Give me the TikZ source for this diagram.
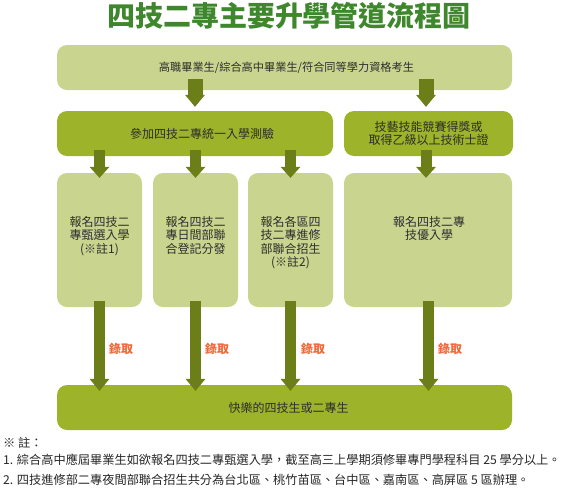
\documentclass[tikz,border=0pt]{standalone}
\usepackage{fontspec}
\setmainfont{Noto Sans CJK TC}
\usetikzlibrary{arrows.meta,calc}
\definecolor{lightg}{RGB}{201,213,143}
\definecolor{darkg}{RGB}{157,179,41}
\definecolor{arrg}{RGB}{107,126,23}
\definecolor{titleg}{RGB}{62,135,45}
\definecolor{orng}{RGB}{240,105,60}
\definecolor{txt}{RGB}{45,45,45}
\begin{document}
\begin{tikzpicture}[x=1pt,y=-1pt,
  box/.style={rounded corners=10pt, inner sep=0pt, text=txt, align=center,
    font=\fontsize{12}{13.3}\selectfont},
  lightbox/.style={box, fill=lightg},
  darkbox/.style={box, fill=darkg},
  boxtext/.style={inner sep=0pt, text=txt, align=center, anchor=north,
    font=\fontsize{12}{13.3}\selectfont},
  bigarr/.style={draw=arrg, line width=15pt,
    -{Triangle[width=20pt,length=12pt,line width=0pt]}},
  midarr/.style={draw=arrg, line width=11pt,
    -{Triangle[width=20pt,length=11pt,line width=0pt]}},
  lowarr/.style={draw=arrg, line width=11pt,
    -{Triangle[width=20pt,length=12pt,line width=0pt]}},
  lbl/.style={text=orng, inner sep=0pt, font=\fontsize{12}{14}\selectfont\bfseries},
  note/.style={anchor=west, inner sep=0pt, text=black!85,
    font=\fontsize{12.2}{14}\selectfont}
]
\useasboundingbox (0,0) rectangle (563,491);

% title
\node[text=titleg, inner sep=0pt, font=\fontsize{28}{30}\selectfont\bfseries]
  (title) at (289,16) {四技二專主要升學管道流程圖};

% boxes
\node[lightbox, minimum width=455pt, minimum height=45pt] (top) at (284.5,67.5)
  {\hspace*{4pt}{\fontsize{11.2}{13}\selectfont 高職畢業生/綜合高中畢業生/符合同等學力資格考生}};
\node[darkbox, minimum width=276pt, minimum height=45pt] (exam) at (195,133.5)
  {\hspace*{14pt}參加四技二專統一入學測驗};
\node[darkbox, minimum width=169pt, minimum height=45pt] (skill) at (428.5,133.5)
  {技藝技能競賽得獎或\\[-1pt]取得乙級以上技術士證};

\node[lightbox, minimum width=85pt, minimum height=134pt] (selA) at (99.5,240) {};
\node[lightbox, minimum width=85pt, minimum height=134pt] (selB) at (195.5,240) {};
\node[lightbox, minimum width=85pt, minimum height=134pt] (selC) at (290.5,240) {};
\node[lightbox, minimum width=168pt, minimum height=134pt] (selD) at (428,240) {};

\node[boxtext] (tA) at ($(selA.north)+(0pt,-43.5pt)$) {報名四技二\\專甄選入學\\(※註1)};
\node[boxtext] (tB) at ($(selB.north)+(0pt,-43.5pt)$) {報名四技二\\專日間部聯\\合登記分發};
\node[boxtext] (tC) at ($(selC.north)+(0pt,-43.5pt)$) {報名各區四\\技二專進修\\部聯合招生\\(※註2)};
\node[boxtext] (tD) at ($(selD.north)+(1pt,-43.5pt)$) {報名四技二專\\技優入學};

\node[darkbox, minimum width=455pt, minimum height=45pt] (happy) at (284.5,407.5)
  {\hspace*{8pt}快樂的四技生或二專生};

% arrows
\draw[bigarr] ($(top.south -| exam.north)+(0pt,11pt)$) -- ($(exam.north)+(0pt,4pt)$);
\draw[bigarr] ($(top.south -| skill.north)+(-2.5pt,11pt)$) -- ($(skill.north)+(-2.5pt,4pt)$);

\draw[midarr] ($(exam.south -| selA.north)+(0pt,6pt)$) -- ($(selA.north)+(0pt,-5pt)$);
\draw[midarr] ($(exam.south -| selB.north)+(0pt,6pt)$) -- ($(selB.north)+(0pt,-5pt)$);
\draw[midarr] ($(exam.south -| selC.north)+(0pt,6pt)$) -- ($(selC.north)+(0pt,-5pt)$);
\draw[midarr] ($(skill.south -| selD.north)+(-2pt,6pt)$) -- ($(selD.north)+(-2pt,-5pt)$);

\draw[lowarr] ($(selA.south)+(0pt,6pt)$) -- ($(selA.south |- happy.north)+(0pt,-6pt)$)
  node[lbl, pos=0.533, xshift=21.5pt] (lA) {錄取};
\draw[lowarr] ($(selB.south)+(0pt,6pt)$) -- ($(selB.south |- happy.north)+(0pt,-6pt)$)
  node[lbl, pos=0.533, xshift=21.5pt] (lB) {錄取};
\draw[lowarr] ($(selC.south)+(0pt,6pt)$) -- ($(selC.south |- happy.north)+(0pt,-6pt)$)
  node[lbl, pos=0.533, xshift=22.5pt] (lC) {錄取};
\draw[lowarr] ($(selD.south)+(0.5pt,6pt)$) -- ($(selD.south |- happy.north)+(0.5pt,-6pt)$)
  node[lbl, pos=0.533, xshift=21.5pt] (lD) {錄取};

% notes
\node[note] (n0) at (3,443) {※ 註：};
\node[note] (n1) at (3,460) {1. 綜合高中應屆畢業生如欲報名四技二專甄選入學，截至高三上學期須修畢專門學程科目 25 學分以上。};
\node[note] (n2) at (3,480) {2. 四技進修部二專夜間部聯合招生共分為台北區、桃竹苗區、台中區、嘉南區、高屏區 5 區辦理。};
\end{tikzpicture}
\end{document}
